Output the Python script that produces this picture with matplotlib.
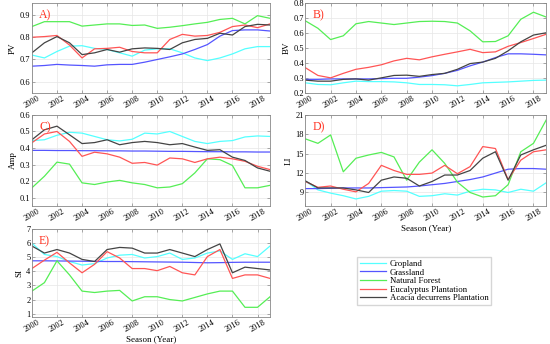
import matplotlib.pyplot as plt
import numpy as np

plt.rcParams.update({'font.family': 'Liberation Serif', 'font.size': 6})

years = np.arange(2000, 2020)
classes = ['Cropland', 'Grassland', 'Natural Forest', 'Eucalyptus Plantation', 'Acacia decurrens Plantation']
colors = ['#55ffff', '#5555ff', '#55ee55', '#ff5555', '#444444']

# PV
pv_crop = [0.72, 0.707, 0.736, 0.76, 0.762, 0.75, 0.745, 0.73, 0.715, 0.742, 0.748, 0.748, 0.73, 0.707, 0.695, 0.707, 0.725, 0.748, 0.758, 0.758]
pv_grass = [0.67, 0.673, 0.678, 0.675, 0.673, 0.67, 0.676, 0.678, 0.678, 0.688, 0.70, 0.712, 0.725, 0.745, 0.767, 0.805, 0.83, 0.833, 0.833, 0.828]
pv_forest = [0.848, 0.87, 0.87, 0.87, 0.85, 0.855, 0.86, 0.86, 0.853, 0.855, 0.84, 0.845, 0.852, 0.86, 0.867, 0.88, 0.885, 0.86, 0.897, 0.885]
pv_euc = [0.80, 0.803, 0.808, 0.765, 0.707, 0.748, 0.75, 0.755, 0.736, 0.73, 0.73, 0.79, 0.813, 0.805, 0.808, 0.822, 0.848, 0.855, 0.843, 0.86]
pv_acacia = [0.73, 0.775, 0.803, 0.775, 0.722, 0.73, 0.745, 0.733, 0.748, 0.752, 0.75, 0.745, 0.775, 0.79, 0.795, 0.818, 0.81, 0.848, 0.858, 0.855]

# BV
bv_crop = [0.267, 0.256, 0.254, 0.267, 0.278, 0.275, 0.275, 0.273, 0.267, 0.256, 0.256, 0.254, 0.247, 0.256, 0.267, 0.27, 0.273, 0.278, 0.283, 0.285]
bv_grass = [0.29, 0.29, 0.293, 0.293, 0.293, 0.293, 0.295, 0.297, 0.297, 0.305, 0.315, 0.33, 0.35, 0.38, 0.405, 0.435, 0.46, 0.46, 0.457, 0.453]
bv_forest = [0.68, 0.63, 0.555, 0.58, 0.66, 0.675, 0.665, 0.655, 0.665, 0.675, 0.677, 0.675, 0.665, 0.613, 0.54, 0.542, 0.58, 0.69, 0.737, 0.705]
bv_euc = [0.368, 0.316, 0.30, 0.33, 0.357, 0.37, 0.387, 0.413, 0.43, 0.42, 0.44, 0.457, 0.473, 0.49, 0.468, 0.473, 0.51, 0.535, 0.562, 0.59]
bv_acacia = [0.285, 0.278, 0.278, 0.29, 0.293, 0.285, 0.30, 0.316, 0.318, 0.31, 0.322, 0.33, 0.357, 0.395, 0.405, 0.43, 0.48, 0.54, 0.585, 0.60]

# Amp
amp_crop = [0.445, 0.45, 0.477, 0.495, 0.49, 0.47, 0.45, 0.443, 0.453, 0.49, 0.485, 0.50, 0.47, 0.44, 0.427, 0.44, 0.445, 0.467, 0.473, 0.47]
amp_grass = [0.386, 0.386, 0.385, 0.385, 0.384, 0.384, 0.383, 0.383, 0.382, 0.382, 0.381, 0.38, 0.38, 0.379, 0.378, 0.378, 0.377, 0.377, 0.376, 0.376]
amp_forest = [0.16, 0.23, 0.315, 0.303, 0.19, 0.18, 0.195, 0.205, 0.19, 0.18, 0.16, 0.165, 0.185, 0.25, 0.335, 0.33, 0.295, 0.16, 0.16, 0.175]
amp_euc = [0.432, 0.485, 0.50, 0.44, 0.35, 0.375, 0.365, 0.345, 0.308, 0.313, 0.297, 0.34, 0.335, 0.313, 0.335, 0.345, 0.335, 0.32, 0.29, 0.27]
amp_acacia = [0.45, 0.51, 0.532, 0.48, 0.427, 0.433, 0.45, 0.42, 0.433, 0.44, 0.433, 0.42, 0.427, 0.406, 0.386, 0.39, 0.345, 0.325, 0.28, 0.26]

# LI
li_crop = [10.8, 9.4, 8.9, 8.5, 8.0, 8.4, 9.2, 9.3, 9.2, 8.4, 8.5, 8.8, 8.6, 9.2, 9.5, 9.4, 9.0, 9.5, 9.2, 10.5]
li_grass = [9.6, 9.6, 9.65, 9.7, 9.7, 9.7, 9.75, 9.8, 9.85, 10.0, 10.2, 10.4, 10.7, 11.0, 11.4, 12.0, 12.6, 12.7, 12.7, 12.6]
li_forest = [17.3, 16.6, 17.9, 12.2, 14.3, 14.8, 15.2, 14.5, 10.9, 13.7, 15.6, 13.5, 10.6, 9.0, 8.3, 8.5, 10.2, 15.3, 16.6, 20.2]
li_euc = [10.7, 9.8, 10.0, 9.5, 9.1, 10.4, 13.2, 12.4, 11.8, 11.8, 12.0, 13.2, 11.9, 13.0, 16.1, 15.8, 11.0, 14.0, 15.3, 15.6]
li_acacia = [10.8, 9.7, 9.7, 9.7, 9.4, 9.0, 10.9, 11.4, 11.2, 10.0, 10.7, 11.7, 11.7, 12.4, 14.3, 15.3, 10.9, 14.8, 15.6, 16.3]

# SI
si_crop = [6.0, 5.2, 5.05, 4.7, 4.45, 4.55, 4.95, 5.15, 5.2, 4.95, 5.05, 5.3, 4.85, 4.95, 5.3, 5.45, 4.85, 5.25, 5.05, 5.8]
si_grass = [4.75, 4.75, 4.74, 4.73, 4.72, 4.71, 4.7, 4.7, 4.69, 4.68, 4.67, 4.66, 4.65, 4.63, 4.61, 4.62, 4.64, 4.65, 4.65, 4.65]
si_forest = [2.6, 3.2, 4.75, 3.75, 2.6, 2.5, 2.6, 2.65, 1.9, 2.2, 2.2, 2.0, 1.9, 2.15, 2.4, 2.6, 2.6, 1.45, 1.45, 2.2]
si_euc = [4.2, 4.8, 5.35, 4.6, 3.9, 4.5, 5.4, 4.95, 4.2, 4.2, 4.05, 4.35, 3.9, 3.75, 5.05, 5.55, 3.5, 3.75, 3.75, 3.5]
si_acacia = [5.8, 5.3, 5.55, 5.3, 4.85, 4.7, 5.55, 5.7, 5.65, 5.3, 5.3, 5.55, 5.3, 5.05, 5.55, 5.95, 3.9, 4.3, 4.2, 4.1]

panels = [
    ('A)', 'PV', [pv_crop, pv_grass, pv_forest, pv_euc, pv_acacia], (0.55, 0.955), np.arange(0.6, 0.95, 0.1), '%.1f'),
    ('B)', 'BV', [bv_crop, bv_grass, bv_forest, bv_euc, bv_acacia], (0.2, 0.8), np.arange(0.2, 0.85, 0.1), '%.1f'),
    ('C)', 'Amp', [amp_crop, amp_grass, amp_forest, amp_euc, amp_acacia], (0.05, 0.6), np.arange(0.1, 0.65, 0.1), '%.1f'),
    ('D)', 'LI', [li_crop, li_grass, li_forest, li_euc, li_acacia], (6.9, 21), [9, 12, 15, 18, 21], '%d'),
    ('E)', 'SI', [si_crop, si_grass, si_forest, si_euc, si_acacia], (0.75, 7), [1, 2, 3, 4, 5, 6, 7], '%d'),
]

# axes rectangles in figure fraction
rects = [
    [0.058, 0.730, 0.433, 0.262],
    [0.555, 0.730, 0.438, 0.262],
    [0.058, 0.401, 0.433, 0.265],
    [0.555, 0.401, 0.438, 0.265],
    [0.058, 0.078, 0.433, 0.256],
]

fig = plt.figure(figsize=(5.5, 3.44), dpi=100)
for (tag, ylab, series, ylim, yticks, fmt), rect in zip(panels, rects):
    ax = fig.add_axes(rect)
    for vals, c, name in zip(series, colors, classes):
        ax.plot(years, vals, color=c, lw=0.9, label=name)
    ax.set_xlim(2000, 2019)
    ax.set_ylim(*ylim)
    ax.set_xticks(np.arange(2000, 2019, 2))
    ax.set_yticks(yticks)
    ax.yaxis.set_major_formatter(plt.FormatStrFormatter(fmt))
    ax.tick_params(axis='x', labelrotation=30, pad=1, labelsize=6)
    ax.tick_params(axis='y', pad=1, labelsize=6)
    ax.tick_params(direction='in', top=True, right=True, length=2, width=0.5, color='#888888')
    ax.grid(True, color='#e6e6e6', lw=0.5)
    for s in ax.spines.values():
        s.set_color('#888888')
        s.set_linewidth(0.6)
    ax.set_ylabel(ylab, labelpad=2, fontsize=6.5)
    ax.text(0.03, 0.93, tag, transform=ax.transAxes, color='#ff3322', fontsize=8.5, va='top', ha='left')
    if tag in ('D)', 'E)'):
        ax.set_xlabel('Season (Year)', labelpad=1, fontsize=6.5)
    if tag == 'E)':
        handles, labels = ax.get_legend_handles_labels()

fig.legend(handles, labels, loc='upper left', bbox_to_anchor=(0.642, 0.265), fontsize=6.3,
           frameon=True, fancybox=False, edgecolor='#cccccc', handlelength=3, labelspacing=0.05,
           borderpad=0.3, handletextpad=0.4)

plt.savefig('out.png', dpi=100)
